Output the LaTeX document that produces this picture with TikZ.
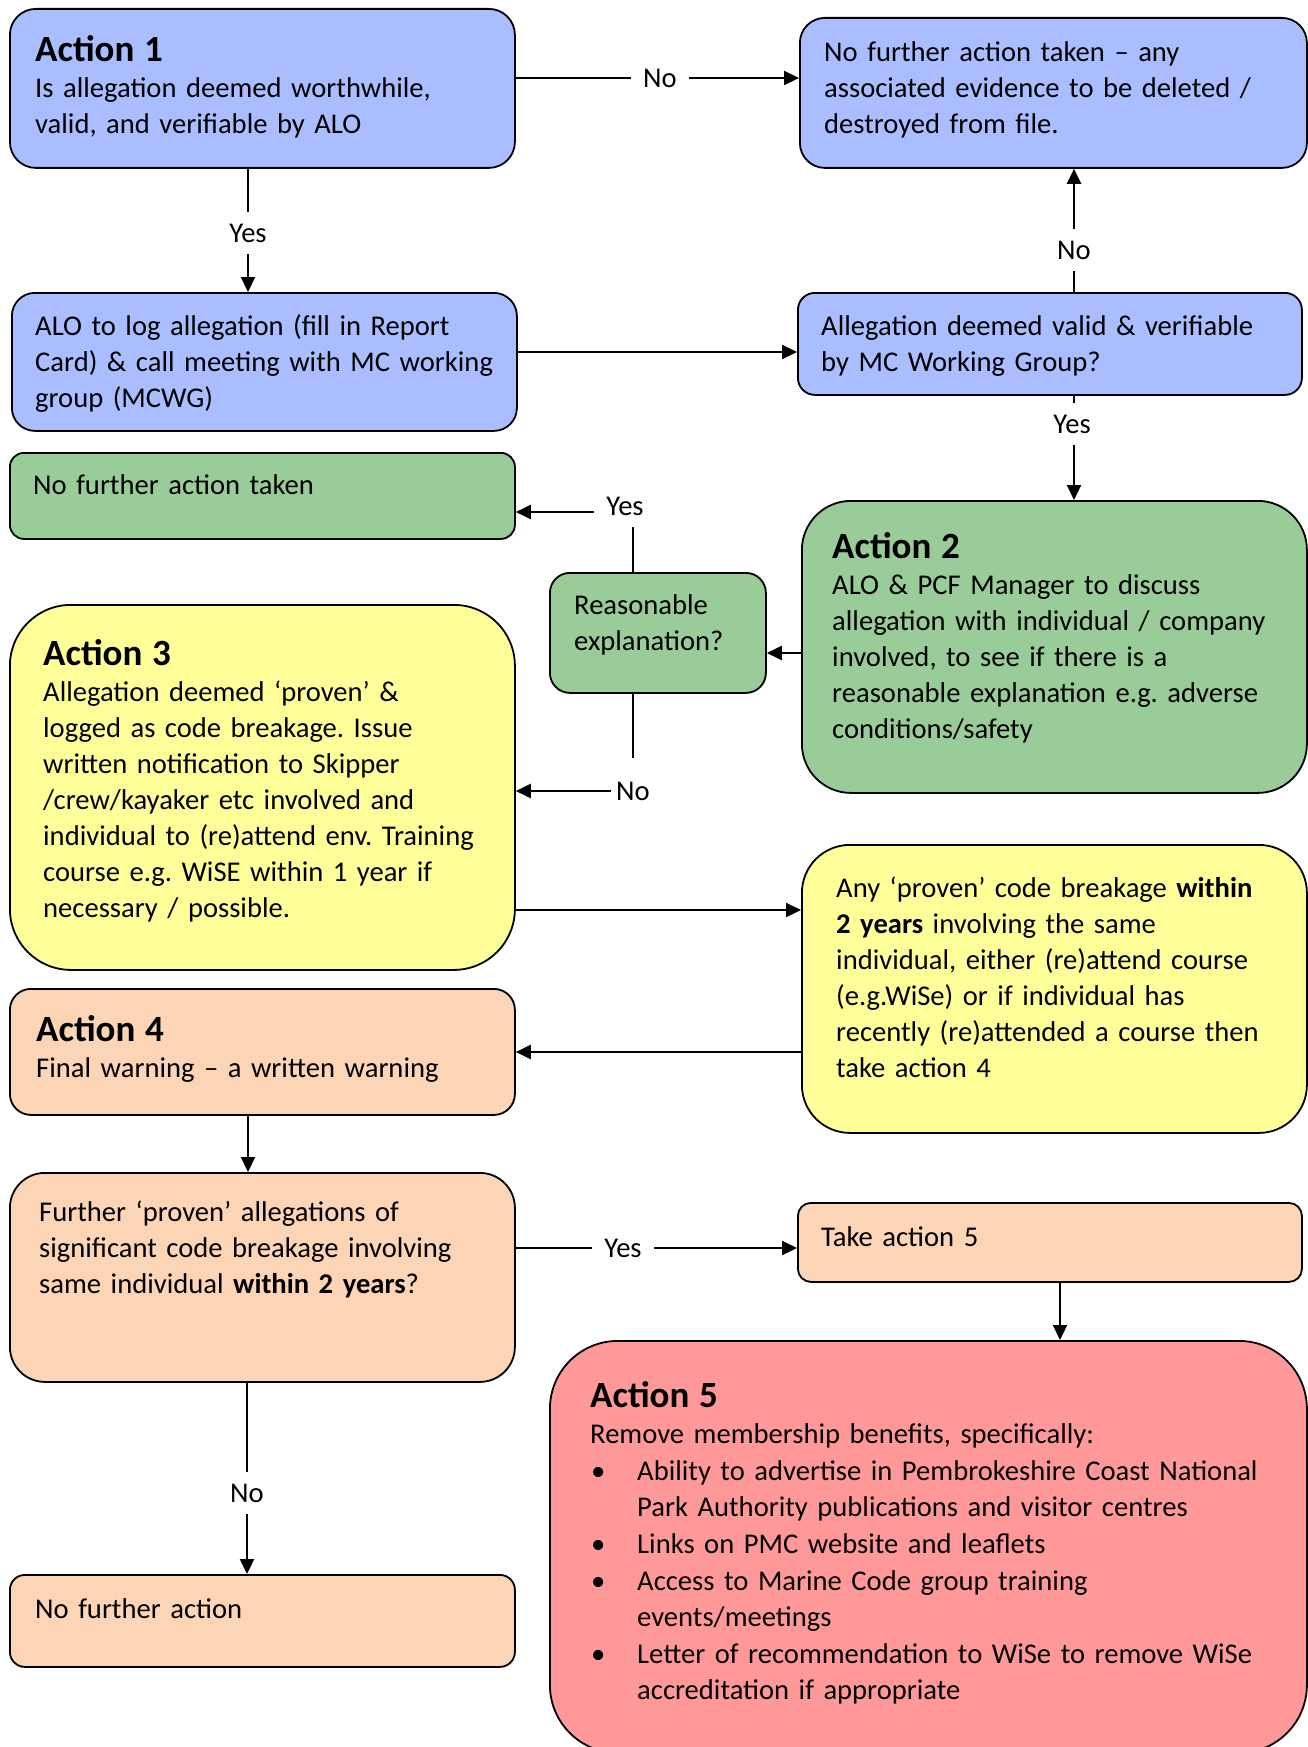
\documentclass[tikz,border=0pt]{standalone}
\usepackage{fontspec}
\setmainfont{Carlito}
\usetikzlibrary{arrows.meta}
\definecolor{blueF}{RGB}{170,190,255}
\definecolor{greenF}{RGB}{153,204,153}
\definecolor{yellowF}{RGB}{255,255,153}
\definecolor{peachF}{RGB}{251,213,181}
\definecolor{redF}{RGB}{255,153,153}
\newcommand\bodyf{\frenchspacing\fontsize{28.6pt}{36pt}\selectfont}
\newcommand\bodyfv{\frenchspacing\fontsize{28.6pt}{36.6pt}\selectfont}
\newcommand\headf{\fontsize{37pt}{36pt}\selectfont\bfseries}
\newcommand\bul{\makebox[47pt][l]{\hspace{1pt}\textbullet}}
\newcommand\ind{\hspace*{47pt}}
\tikzset{
  bx/.style={draw=black, line width=1.8pt, rounded corners=#1, inner sep=0pt, anchor=north west},
  txt/.style={anchor=base west, inner sep=0pt, align=left, text width=560pt, font=\bodyf},
  lbl/.style={fill=white, inner xsep=12pt, inner ysep=12pt, font=\bodyf},
  ln/.style={line width=1.4pt},
  arr/.style={line width=2.2pt, -{Triangle[length=15pt,width=14pt]}},
}
\begin{document}
\begin{tikzpicture}[x=1pt,y=-1pt]
\useasboundingbox (0,0) rectangle (1308,1747);
\fill[white] (0,0) rectangle (1308,1747);
% boxes
\node[bx=26pt, fill=blueF, minimum width=505pt, minimum height=159pt] (a1) at (9,8) {};
\node[bx=25pt, fill=blueF, minimum width=507pt, minimum height=150pt] (nfa1) at (799,17) {};
\node[bx=23pt, fill=blueF, minimum width=505pt, minimum height=138pt] (log) at (11,292) {};
\node[bx=17pt, fill=blueF, minimum width=504pt, minimum height=102pt] (valid) at (797,292) {};
\node[bx=14pt, fill=greenF, minimum width=505pt, minimum height=86pt] (nfag) at (9,452) {};
\node[bx=20pt, fill=greenF, minimum width=216pt, minimum height=120pt] (reas) at (549,572) {};
\node[bx=49pt, fill=greenF, minimum width=505pt, minimum height=292pt] (a2) at (801,500) {};
\node[bx=61pt, fill=yellowF, minimum width=505pt, minimum height=365pt] (a3) at (9,604) {};
\node[bx=48pt, fill=yellowF, minimum width=505pt, minimum height=288pt] (any) at (801,844) {};
\node[bx=21pt, fill=peachF, minimum width=505pt, minimum height=126pt] (a4) at (9,988) {};
\node[bx=35pt, fill=peachF, minimum width=505pt, minimum height=209pt] (further) at (9,1172) {};
\node[bx=13pt, fill=peachF, minimum width=504pt, minimum height=79pt] (take5) at (797,1202) {};
\node[bx=68pt, fill=redF, minimum width=757pt, minimum height=412pt] (a5) at (549,1340) {};
\node[bx=15pt, fill=peachF, minimum width=505pt, minimum height=92pt] (nfab) at (9,1574) {};
% texts
\node[txt] (t1) at (35,62) {{\headf Action 1}\\Is allegation deemed worthwhile,\\valid, and verifiable by ALO};
\node[txt] (t2) at (824,62) {No further action taken -- any\\associated evidence to be deleted /\\destroyed from file.};
\node[txt] (t3) at (35,335) {ALO to log allegation (fill in Report\\Card) \& call meeting with MC working\\group (MCWG)};
\node[txt] (t4) at (821,335) {Allegation deemed valid \& verifiable\\by MC Working Group?};
\node[txt] (t5) at (33,494) {No further action taken};
\node[txt] (t6) at (574,614) {Reasonable\\explanation?};
\node[txt] (t7) at (832,558) {{\headf Action 2}\\ALO \& PCF Manager to discuss\\allegation with individual / company\\involved, to see if there is a\\reasonable explanation e.g. adverse\\conditions/safety};
\node[txt] (t8) at (43,665) {{\headf Action 3}\\Allegation deemed ‘proven’ \&\\logged as code breakage. Issue\\written notification to Skipper\\/crew/kayaker etc involved and\\individual to (re)attend env. Training\\course e.g. WiSE within 1 year if\\necessary / possible.};
\node[txt] (t9) at (836,897) {Any ‘proven’ code breakage \textbf{within}\\\textbf{2 years} involving the same\\individual, either (re)attend course\\(e.g.WiSe) or if individual has\\recently (re)attended a course then\\take action 4};
\node[txt] (t10) at (36,1041) {{\headf Action 4}\\Final warning -- a written warning};
\node[txt] (t11) at (39,1221) {Further ‘proven’ allegations of\\significant code breakage involving\\same individual \textbf{within 2 years}?};
\node[txt] (t12) at (821,1246) {Take action 5};
\node[txt, text width=740pt, font=\bodyfv] (t13) at (590,1407) {{\headf Action 5}\\Remove membership benefits, specifically:\\\bul Ability to advertise in Pembrokeshire Coast National\\\ind Park Authority publications and visitor centres\\\bul Links on PMC website and leaflets\\\bul Access to Marine Code group training\\\ind events/meetings\\\bul Letter of recommendation to WiSe to remove WiSe\\\ind accreditation if appropriate};
\node[txt] (t14) at (35,1618) {No further action};
% connectors
\coordinate (cNo1) at (660,78);
\draw[ln] (a1.east |- cNo1) -- (cNo1);
\draw[arr] (cNo1) -- (nfa1.west |- cNo1);
\node[lbl] (lNo1) at (cNo1) {No};
\coordinate (cYes1) at (248,233);
\draw[ln] (a1.south -| cYes1) -- (cYes1);
\draw[arr] (cYes1) -- (log.north -| cYes1);
\node[lbl] (lYes1) at (cYes1) {Yes};
\coordinate (cL) at (650,352);
\draw[arr] (log.east |- cL) -- (valid.west |- cL);
\coordinate (cNo2) at (1074,250);
\draw[ln] (valid.north -| cNo2) -- (cNo2);
\draw[arr] (cNo2) -- (nfa1.south -| cNo2);
\node[lbl] (lNo2) at (cNo2) {No};
\coordinate (cYes2) at (1074,430);
\draw[ln] (valid.south -| cYes2) -- (cYes2);
\draw[arr] (cYes2) -- (a2.north -| cYes2);
\node[lbl] (lYes2) at (1072,424) {Yes};
\coordinate (cR) at (780,653);
\draw[arr] (a2.west |- cR) -- (reas.east |- cR);
\coordinate (kY) at (633,512);
\draw[ln] (reas.north -| kY) -- (kY);
\draw[arr] (kY) -- (nfag.east |- kY);
\node[lbl] (lYes3) at (625,506) {Yes};
\coordinate (kN1) at (633,758);
\coordinate (kN2) at (611,791);
\draw[ln] (reas.south -| kN1) -- (kN1);
\draw[arr] (kN2) -- (a3.east |- kN2);
\node[lbl, fill=none, inner sep=0pt] (lNo3) at (633,791) {No};
\coordinate (cA) at (650,910);
\draw[arr] (a3.east |- cA) -- (any.west |- cA);
\coordinate (cB) at (650,1052);
\draw[arr] (any.west |- cB) -- (a4.east |- cB);
\coordinate (cC) at (248,1140);
\draw[arr] (a4.south -| cC) -- (further.north -| cC);
\coordinate (cYes4) at (623,1248);
\draw[ln] (further.east |- cYes4) -- (cYes4);
\draw[arr] (cYes4) -- (take5.west |- cYes4);
\node[lbl] (lYes4) at (cYes4) {Yes};
\coordinate (cD) at (1060,1310);
\draw[arr] (take5.south -| cD) -- (a5.north -| cD);
\coordinate (cNo4) at (247,1493);
\draw[ln] (further.south -| cNo4) -- (cNo4);
\draw[arr] (cNo4) -- (nfab.north -| cNo4);
\node[lbl] (lNo4) at (cNo4) {No};
\end{tikzpicture}
\end{document}
